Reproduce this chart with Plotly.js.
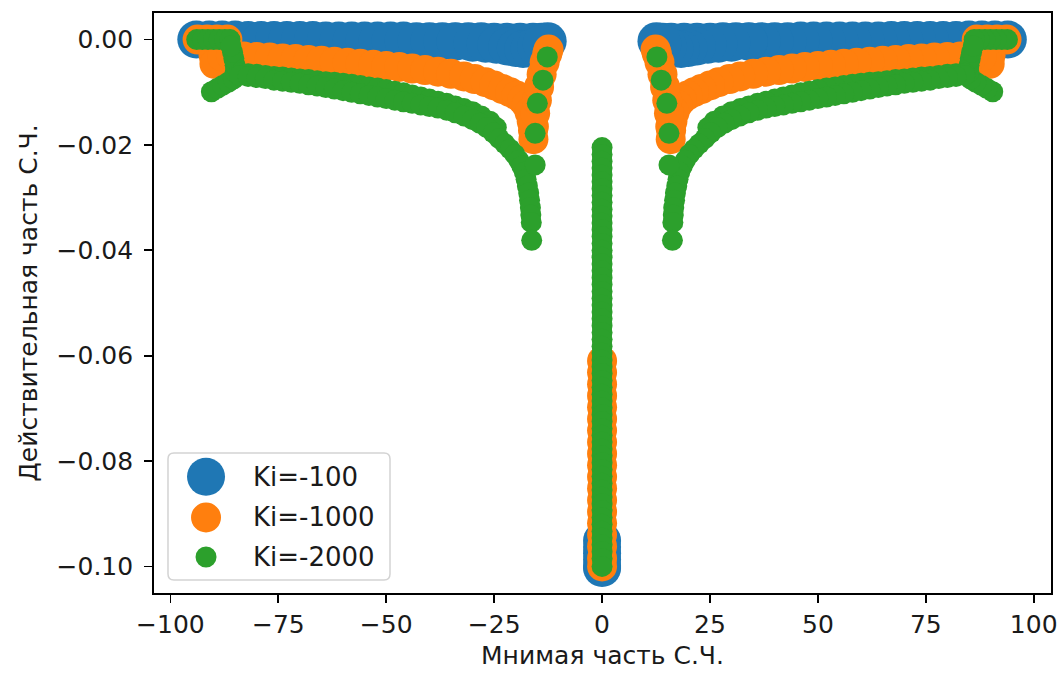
<!DOCTYPE html>
<html>
<head>
<meta charset="utf-8">
<script src="https://cdn.plot.ly/plotly-3.0.1.min.js"></script>
<style>html,body{margin:0;padding:0;background:#fff;}#chart{width:1057px;height:675px;}</style>
</head>
<body>
<div id="chart"></div>
<script>
// ---- Data (negative imaginary half; the conjugate half is mirrored) ----
const seriesNames = ['Ki=-100', 'Ki=-1000', 'Ki=-2000'];
const seriesColors = ['#1f77b4', '#ff7f0e', '#2ca02c'];

// Ki=-100
const blueUpperImag = [-94.0, -91.0, -88.0, -85.0, -82.0, -79.0, -76.0, -73.0, -70.0, -67.0, -64.0, -61.0, -58.0, -55.0, -52.0, -49.0, -46.0, -43.0, -40.0, -37.0, -34.0, -31.0, -28.0, -25.0, -22.0, -19.0, -16.0, -14.0, -12.6];
const blueUpperReal = [0.0000, 0.0000, 0.0000, 0.0000, -0.0001, -0.0001, -0.0001, -0.0001, -0.0001, -0.0001, -0.0002, -0.0002, -0.0002, -0.0002, -0.0002, -0.0002, -0.0002, -0.0003, -0.0003, -0.0003, -0.0003, -0.0003, -0.0003, -0.0004, -0.0004, -0.0004, -0.0004, -0.0004, -0.0003];
const blueLowerImag = [-34.0, -30.0, -27.0, -24.5, -22.0, -20.0, -18.3, -16.8, -15.3, -14.0];
const blueLowerReal = [-0.0004, -0.0006, -0.0008, -0.0010, -0.0013, -0.0016, -0.0018, -0.0017, -0.0013, -0.0008];
const blueRealAxis = [-0.0951, -0.0963, -0.0975, -0.0987, -0.0999, -0.1003];

// Ki=-1000
const orangeTopImag = [-93.7, -91.5, -89.2, -86.8];
const orangeTopReal = [0.0000, 0.0000, 0.0000, 0.0000];
const orangeHookImag = [-90.3, -90.0, -89.8, -88.0];
const orangeHookReal = [-0.0012, -0.0030, -0.0046, -0.0032];
const orangeMainImag = [-86.0, -83.0, -80.0, -77.0, -74.0, -71.0, -68.0, -65.0, -62.0, -59.0, -56.0, -53.0, -50.0, -47.0, -44.0, -41.0, -38.0, -35.0, -32.0, -29.5, -27.0, -25.0, -23.0, -21.3, -19.8, -18.5, -17.5, -16.8, -16.3, -16.0, -15.9];
const orangeMainReal = [-0.0030, -0.0032, -0.0033, -0.0034, -0.0036, -0.0037, -0.0039, -0.0040, -0.0042, -0.0044, -0.0046, -0.0048, -0.0050, -0.0052, -0.0055, -0.0058, -0.0061, -0.0065, -0.0070, -0.0075, -0.0081, -0.0087, -0.0094, -0.0100, -0.0106, -0.0114, -0.0124, -0.0138, -0.0155, -0.0172, -0.0189];
const orangeBranchImag = [-15.8, -15.5, -15.1, -14.6, -14.0, -13.3, -12.7, -12.4];
const orangeBranchReal = [-0.0165, -0.0140, -0.0115, -0.0090, -0.0066, -0.0043, -0.0027, -0.0019];
const orangeRealAxis = [-0.0610, -0.0632, -0.0654, -0.0676, -0.0698, -0.0720, -0.0742, -0.0764, -0.0786, -0.0808, -0.0830, -0.0852, -0.0874, -0.0896, -0.0918, -0.0940, -0.0962, -0.0984, -0.1000];

// Ki=-2000
const greenTopImag = [-93.9, -92.6, -91.3, -90.0, -88.7, -87.4, -86.2];
const greenTopReal = [0.0000, 0.0000, 0.0000, 0.0000, 0.0000, 0.0000, 0.0000];
const greenHookImag = [-90.5, -89.2, -87.9, -86.6, -85.4, -85.0, -85.0, -85.3, -85.6, -86.0];
const greenHookReal = [-0.0099, -0.0093, -0.0087, -0.0081, -0.0075, -0.0062, -0.0049, -0.0036, -0.0024, -0.0012];
const greenUpperImag = [-84.0, -82.0, -80.0, -78.0, -76.0, -74.0, -72.0, -70.0, -68.0, -66.0, -64.0, -62.0, -60.0, -58.0, -56.0, -54.0, -52.0, -50.0, -48.0, -46.0, -44.0, -42.0, -40.0, -38.0, -36.0, -34.0, -32.0, -30.0, -28.0, -26.0, -24.5];
const greenUpperReal = [-0.0064, -0.0065, -0.0066, -0.0068, -0.0070, -0.0071, -0.0073, -0.0075, -0.0076, -0.0078, -0.0080, -0.0081, -0.0083, -0.0085, -0.0087, -0.0090, -0.0092, -0.0095, -0.0098, -0.0101, -0.0105, -0.0109, -0.0113, -0.0117, -0.0121, -0.0126, -0.0131, -0.0137, -0.0145, -0.0155, -0.0167];
const greenMainImag = [-84.0, -82.0, -80.0, -78.0, -76.0, -74.0, -72.0, -70.0, -68.0, -66.0, -64.0, -62.0, -60.0, -58.0, -56.0, -54.0, -52.0, -50.0, -48.0, -46.0, -44.0, -42.0, -40.0, -38.0, -36.0, -34.0, -32.0, -30.0, -28.3, -26.7, -25.2, -23.8, -22.5, -21.3, -20.2, -19.3, -18.6, -18.0, -17.6, -17.3, -17.0, -16.8, -16.6, -16.5, -16.4, -16.3];
const greenMainReal = [-0.0068, -0.0070, -0.0072, -0.0074, -0.0077, -0.0079, -0.0081, -0.0083, -0.0086, -0.0088, -0.0091, -0.0094, -0.0097, -0.0100, -0.0103, -0.0106, -0.0109, -0.0112, -0.0115, -0.0118, -0.0121, -0.0124, -0.0127, -0.0130, -0.0134, -0.0139, -0.0145, -0.0152, -0.0159, -0.0167, -0.0177, -0.0188, -0.0198, -0.0208, -0.0218, -0.0229, -0.0240, -0.0252, -0.0265, -0.0278, -0.0291, -0.0305, -0.0319, -0.0333, -0.0347, -0.0381];
const greenDotsImag = [-12.7, -13.7, -15.0, -15.5, -15.5];
const greenDotsReal = [-0.0033, -0.0077, -0.0121, -0.0178, -0.0238];
const greenRealAxis = [-0.0205, -0.0218, -0.0231, -0.0244, -0.0257, -0.0270, -0.0283, -0.0296, -0.0309, -0.0322, -0.0335, -0.0348, -0.0361, -0.0374, -0.0387, -0.0400, -0.0413, -0.0426, -0.0439, -0.0452, -0.0465, -0.0478, -0.0491, -0.0504, -0.0517, -0.0530, -0.0543, -0.0556, -0.0569, -0.0582, -0.0595, -0.0608, -0.0621, -0.0634, -0.0647, -0.0660, -0.0673, -0.0686, -0.0699, -0.0712, -0.0725, -0.0738, -0.0751, -0.0764, -0.0777, -0.0790, -0.0803, -0.0816, -0.0829, -0.0842, -0.0855, -0.0868, -0.0881, -0.0894, -0.0907, -0.0920, -0.0933, -0.0946, -0.0959, -0.0972, -0.0985, -0.1000];

const markerSizes = [38, 30, 21];

const xTickVals = [-100, -75, -50, -25, 0, 25, 50, 75, 100];
const xTickText = ['\u2212100', '\u221275', '\u221250', '\u221225', '0', '25', '50', '75', '100'];
const yTickVals = [0, -0.02, -0.04, -0.06, -0.08, -0.10];
const yTickText = ['0.00', '\u22120.02', '\u22120.04', '\u22120.06', '\u22120.08', '\u22120.10'];

// ---- Build traces ----
function buildSeries(branches, realAxis) {
  const xs = [], ys = [];
  branches.forEach(([im, re]) => {
    im.forEach((v, i) => { xs.push(v); ys.push(re[i]); });
    im.forEach((v, i) => { xs.push(-v); ys.push(re[i]); }); // complex conjugate
  });
  realAxis.forEach(v => { xs.push(0); ys.push(v); });
  return {x: xs, y: ys};
}

const blue = buildSeries([[blueUpperImag, blueUpperReal], [blueLowerImag, blueLowerReal]], blueRealAxis);
const orange = buildSeries([[orangeTopImag, orangeTopReal], [orangeHookImag, orangeHookReal], [orangeMainImag, orangeMainReal], [orangeBranchImag, orangeBranchReal]], orangeRealAxis);
const green = buildSeries([[greenTopImag, greenTopReal], [greenHookImag, greenHookReal], [greenUpperImag, greenUpperReal], [greenMainImag, greenMainReal], [greenDotsImag, greenDotsReal]], greenRealAxis);

const all = [blue, orange, green];
const traces = all.map((d, i) => ({
  type: 'scatter', mode: 'markers', name: seriesNames[i],
  x: d.x, y: d.y,
  marker: {color: seriesColors[i], size: markerSizes[i], opacity: 1, line: {width: 0}},
  showlegend: false, hoverinfo: 'skip'
}));

const font = {family: 'DejaVu Sans, sans-serif', size: 25, color: '#1a1a1a'};

// custom legend (matplotlib-like, large markers)
const legCx = 0.0580;
const legY = [0.2005, 0.1302, 0.0621];
const legTextX = 0.1081;
const shapes = [{
  type: 'path', xref: 'paper', yref: 'paper', layer: 'above',
  path: 'M0.0223,0.0224 L0.2564,0.0224 Q0.2631,0.0224 0.2631,0.0327 L0.2631,0.2311 Q0.2631,0.2414 0.2564,0.2414 L0.0223,0.2414 Q0.0156,0.2414 0.0156,0.2311 L0.0156,0.0327 Q0.0156,0.0224 0.0223,0.0224 Z',
  fillcolor: 'rgba(255,255,255,0.8)', line: {color: '#d3d3d3', width: 1.5}
}];
const annotations = [];
seriesNames.forEach((n, i) => {
  const r = markerSizes[i] / 2;
  shapes.push({
    type: 'circle', layer: 'above', xref: 'paper', yref: 'paper',
    xsizemode: 'pixel', ysizemode: 'pixel', xanchor: legCx, yanchor: legY[i],
    x0: -r, x1: r, y0: -r, y1: r,
    fillcolor: seriesColors[i], line: {width: 0}
  });
  annotations.push({
    xref: 'paper', yref: 'paper', x: legTextX, y: legY[i], xanchor: 'left', yanchor: 'middle',
    text: n, showarrow: false, font: Object.assign({}, font, {size: 26})
  });
});

const layout = {
  width: 1057, height: 675,
  margin: {l: 154, r: 6, t: 13, b: 82},
  paper_bgcolor: '#fff', plot_bgcolor: '#fff',
  font: font,
  showlegend: false,
  xaxis: {
    range: [-103.8, 104.0], tickmode: 'array', tickvals: xTickVals, ticktext: xTickText,
    showgrid: false, zeroline: false, showline: true, mirror: true,
    linecolor: '#000', linewidth: 1.8, ticks: 'outside', ticklen: 8, tickwidth: 1.8, tickcolor: '#000',
    tickfont: font, ticklabelstandoff: 0, ticklabeloverflow: 'allow',
    title: {text: 'Мнимая часть С.Ч.', font: font, standoff: 9}
  },
  yaxis: {
    range: [-0.10504, 0.00504], tickmode: 'array', tickvals: yTickVals, ticktext: yTickText,
    showgrid: false, zeroline: false, showline: true, mirror: true,
    linecolor: '#000', linewidth: 1.8, ticks: 'outside', ticklen: 8, tickwidth: 1.8, tickcolor: '#000',
    tickfont: font, ticklabelstandoff: 6, ticklabeloverflow: 'allow',
    title: {text: 'Действительная часть С.Ч.', font: font, standoff: 12}
  },
  shapes: shapes,
  annotations: annotations
};

Plotly.newPlot('chart', traces, layout, {displayModeBar: false, staticPlot: true});
</script>
</body>
</html>
